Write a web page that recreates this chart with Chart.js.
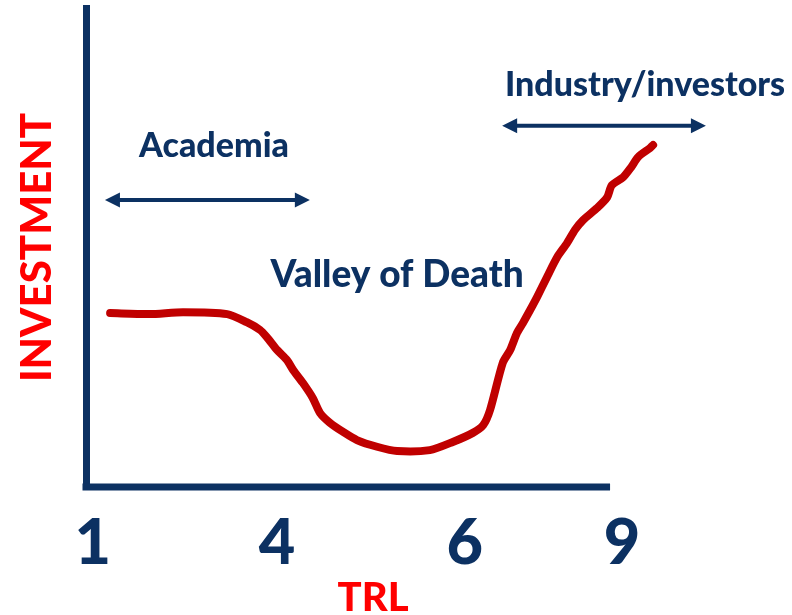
<!DOCTYPE html>
<html>
<head>
<meta charset="utf-8">
<script src="https://cdn.jsdelivr.net/npm/chart.js@4"></script>
<style>
  body { margin: 0; background: #fff; }
  canvas { display: block; }
</style>
</head>
<body>
<canvas id="valleyChart" width="792" height="615"></canvas>
<script>
// curve (x and y on a 0-100 scale)
const curveX = [4.2, 11.1, 16.9, 24.6, 28.0, 30.3, 31.5, 33.3, 35.0, 36.1, 37.8, 39.5, 40.8, 42.5, 44.8, 47.2, 50.7, 54.2, 59.9, 63.9, 67.4, 69.2, 70.4, 72.6, 73.9, 75.1, 76.1, 77.4, 78.6, 80.3, 82.1, 83.8, 85.2, 86.6, 89.0, 90.8, 91.6, 93.6, 95.0, 96.2, 98.3, 98.8];
const curveY = [36.3, 36.1, 36.5, 36.1, 34.4, 32.8, 31.3, 28.6, 26.5, 24.4, 21.7, 18.6, 15.4, 13.4, 11.5, 9.8, 8.4, 7.5, 7.7, 9.4, 11.3, 12.9, 16.1, 25.9, 28.6, 32.2, 34.2, 37.0, 39.7, 43.8, 48.0, 50.9, 53.7, 55.7, 58.2, 60.5, 63.0, 64.7, 66.8, 68.9, 70.8, 71.4];

// TRL tick labels and where they sit on the x scale
const tickLabels = ['1', '4', '6', '9'];
const tickPos = [1.2, 33.3, 66.0, 93.4];
const axisEnd = 91.3;

// double arrows: x of left tip, x of right tip, y
const arrows = [
    [3.3, 39.0, 59.9],
    [72.5, 108.0, 75.4]
];

// text labels: text, x, y, size
const notes = [
    ['Academia', 22.3, 71.2, 34],
    ['Industry/investors', 97.4, 83.9, 34],
    ['Valley of Death', 54.2, 44.3, 37]
];

const navy = '#0c3162';
const red = '#c00000';

const extras = {
    id: 'extras',
    afterDatasetsDraw(chart) {
        const { ctx, scales: { x, y } } = chart;
        ctx.save();
        // horizontal axis, stops before the last label
        ctx.strokeStyle = navy;
        ctx.lineWidth = 7;
        ctx.beginPath();
        ctx.moveTo(x.left - 3.5, y.bottom);
        ctx.lineTo(x.getPixelForValue(axisEnd), y.bottom);
        ctx.stroke();

        // double headed arrows
        ctx.fillStyle = navy;
        ctx.lineWidth = 4;
        arrows.forEach(a => {
            const x1 = x.getPixelForValue(a[0]);
            const x2 = x.getPixelForValue(a[1]);
            const py = y.getPixelForValue(a[2]);
            ctx.beginPath();
            ctx.moveTo(x1 + 8, py);
            ctx.lineTo(x2 - 8, py);
            ctx.stroke();
            ctx.beginPath();
            ctx.moveTo(x1, py);
            ctx.lineTo(x1 + 15, py - 7.5);
            ctx.lineTo(x1 + 15, py + 7.5);
            ctx.closePath();
            ctx.moveTo(x2, py);
            ctx.lineTo(x2 - 15, py - 7.5);
            ctx.lineTo(x2 - 15, py + 7.5);
            ctx.closePath();
            ctx.fill();
        });

        ctx.textAlign = 'center';
        ctx.textBaseline = 'middle';
        notes.forEach(n => {
            ctx.font = '900 ' + n[3] + 'px Lato';
            ctx.fillText(n[0], x.getPixelForValue(n[1]), y.getPixelForValue(n[2]));
        });
        ctx.restore();
    }
};

new Chart(document.getElementById('valleyChart'), {
    type: 'line',
    data: {
        datasets: [{
            data: curveX.map((v, i) => ({ x: v, y: curveY[i] })),
            borderColor: red,
            borderWidth: 8,
            pointRadius: 0,
            tension: 0.25,
            borderCapStyle: 'round',
            clip: false
        }]
    },
    options: {
        responsive: false,
        animation: false,
        layout: { padding: { top: 8, right: 132, left: 0, bottom: 0 } },
        plugins: { legend: { display: false }, tooltip: { enabled: false } },
        scales: {
            x: {
                type: 'linear',
                min: 0,
                max: 100,
                grid: { display: false, drawTicks: false },
                border: { display: false },
                afterBuildTicks: s => { s.ticks = tickPos.map(v => ({ value: v })); },
                afterFit: s => { s.height = 128; },
                ticks: {
                    autoSkip: false,
                    maxRotation: 0,
                    padding: 25,
                    color: navy,
                    font: { family: 'Lato', size: 63, weight: '900', lineHeight: 1 },
                    callback: (v, i) => tickLabels[i]
                },
                title: {
                    display: true,
                    text: 'TRL',
                    color: '#ff0000',
                    font: { family: 'Lato', size: 40, weight: '900', lineHeight: 1 },
                    padding: { top: 0, bottom: -3 }
                }
            },
            y: {
                min: 0,
                max: 100,
                grid: { display: false, drawTicks: false },
                border: { display: true, color: navy, width: 7 },
                ticks: { display: false },
                afterFit: s => { s.width = 86; },
                title: {
                    display: true,
                    text: 'INVESTMENT',
                    color: '#ff0000',
                    font: { family: 'Lato', size: 42, weight: '900', lineHeight: 1 },
                    padding: { top: 16, bottom: 0 }
                }
            }
        }
    },
    plugins: [extras]
});
</script>
</body>
</html>
